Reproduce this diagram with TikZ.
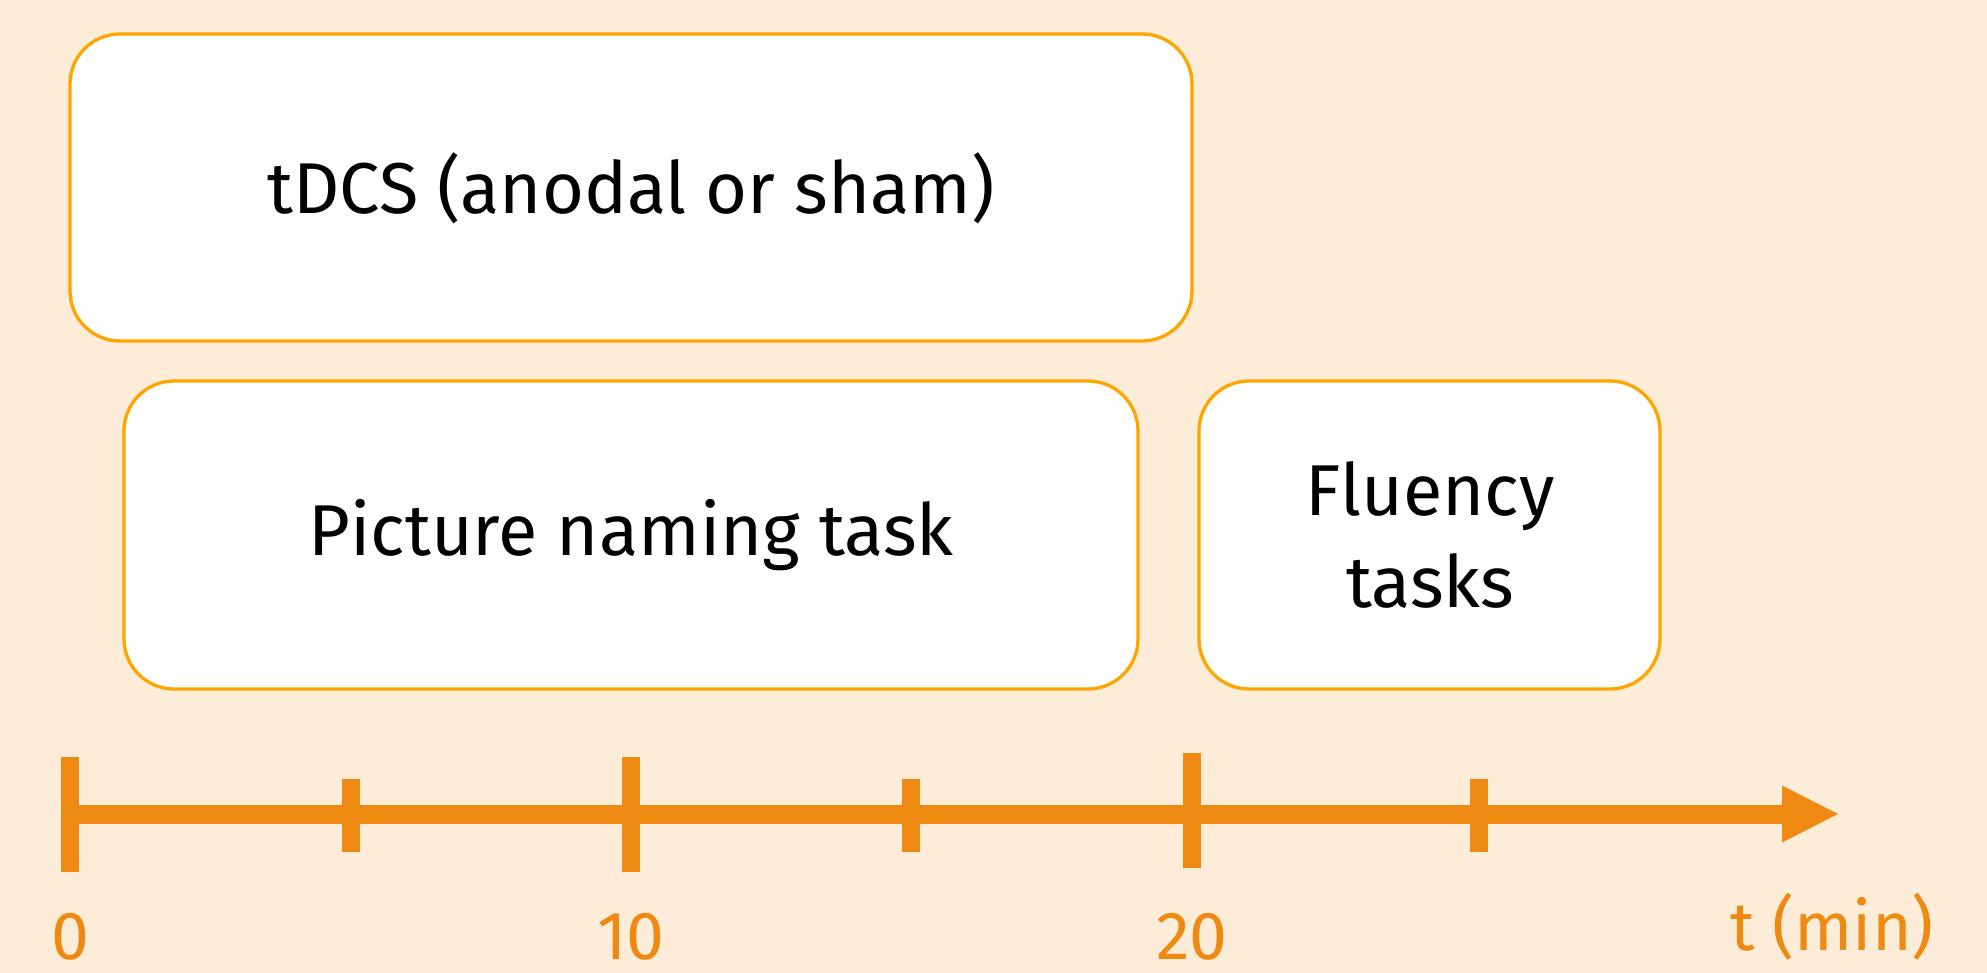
\documentclass[tikz,border=0pt]{standalone}
\usepackage{fontspec}
\setmainfont{Fira Sans}
\definecolor{bgc}{RGB}{253,236,216}
\definecolor{boxc}{RGB}{255,165,0}
\definecolor{axc}{RGB}{238,138,18}
\begin{document}
\begin{tikzpicture}[x=0.5pt,y=-0.5pt,
  taskbox/.style={draw=boxc, line width=1.65pt, fill=white, rounded corners=25pt, inner sep=0pt},
  boxtext/.style={font=\fontsize{36}{46}\selectfont, align=center, inner sep=0pt},
  axisline/.style={draw=axc, line width=9.5pt},
  majortick/.style={draw=axc, line width=9pt},
  minortick/.style={draw=axc, line width=9pt},
  ticklbl/.style={text=axc, font=\fontsize{34}{46}\selectfont, anchor=base, inner sep=0pt}]
\fill[bgc] (0,0) rectangle (1987,973);
\useasboundingbox (0,0) rectangle (1987,973);
% boxes
\draw[taskbox] (70,34) rectangle (1192,341);
\node[boxtext] (tdcs) at (631,188) {tDCS (anodal or sham)};
\draw[taskbox] (124,381) rectangle (1138,689);
\node[boxtext] (pnt) at (631,535) {Picture naming task};
\draw[taskbox] (1199,381) rectangle (1660,689);
\node[boxtext] (flu) at (1430,535) {Fluency\\tasks};
% axis
\coordinate (t0) at (70,814);
\coordinate (abase) at (1782,814);
\coordinate (tend) at (1838,814);
\draw[axisline] (t0) -- (abase);
\fill[axc] (1782,785.5) -- (tend) -- (1782,842.5) -- cycle;
% ticks
\coordinate (m0a) at (70,757); \coordinate (m0b) at (70,872);
\coordinate (m10a) at (631,757); \coordinate (m10b) at (631,872);
\coordinate (m20a) at (1192,753); \coordinate (m20b) at (1192,868);
\draw[majortick] (m0a) -- (m0b);
\draw[majortick] (m10a) -- (m10b);
\draw[majortick] (m20a) -- (m20b);
\coordinate (n5a) at (351,779); \coordinate (n5b) at (351,852);
\coordinate (n15a) at (911,779); \coordinate (n15b) at (911,852);
\coordinate (n25a) at (1479,779); \coordinate (n25b) at (1479,852);
\draw[minortick] (n5a) -- (n5b);
\draw[minortick] (n15a) -- (n15b);
\draw[minortick] (n25a) -- (n25b);
% labels
\node[ticklbl] (l0) at (70,959) {0};
\node[ticklbl] (l10) at (631,959) {10};
\node[ticklbl] (l20) at (1192,959) {20};
\node[ticklbl] (lt) at (1832,950) {t (min)};
\end{tikzpicture}
\end{document}
